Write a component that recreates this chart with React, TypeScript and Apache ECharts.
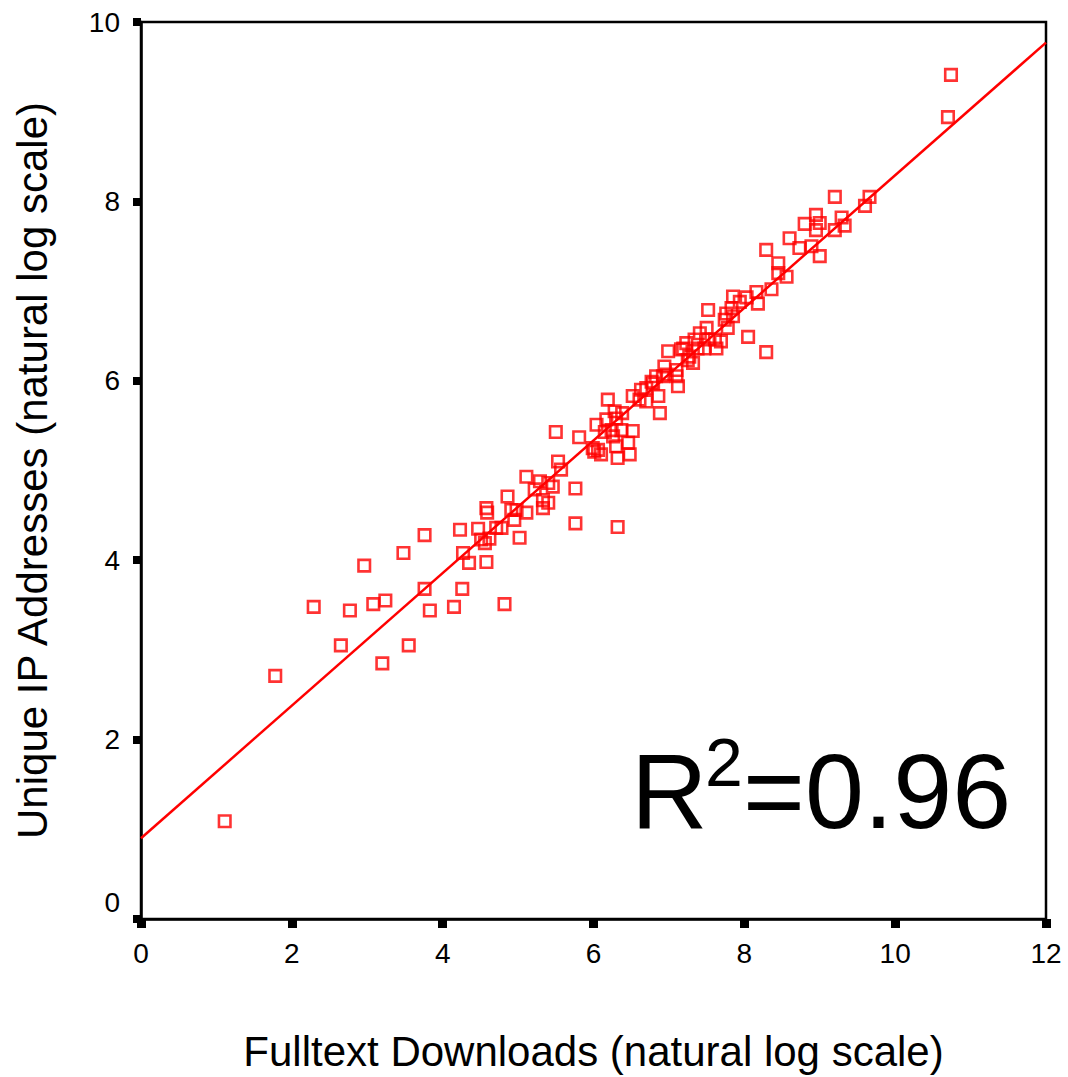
import React, { useEffect, useRef } from "react";
import * as echarts from "echarts";

// Fulltext downloads (ln) for each article
const downloads = [
  1.11, 1.78, 2.29, 2.65, 2.77, 2.96, 3.08, 3.24, 3.2, 3.48, 3.55, 3.76, 3.76, 3.83, 4.15, 4.26, 4.23, 4.27, 4.35, 4.47,
  4.51, 4.56, 4.62, 4.58, 4.58, 4.59, 4.71, 4.78, 4.82, 4.86, 4.91, 4.98, 4.95, 5.02, 5.11, 5.11, 5.22, 5.29, 5.33, 5.33,
  5.4, 5.4, 5.46, 5.5, 5.53, 5.57, 5.76, 5.76, 5.81, 6.32,
  5.99, 6.01, 6.04, 6.06, 6.1, 6.15, 6.17, 6.19, 6.24, 6.26, 6.28, 6.3, 6.3, 6.32, 6.37, 6.38, 6.46, 6.48, 6.52, 6.52,
  6.61, 6.63, 6.7, 6.7, 6.77, 6.79, 6.83, 6.86, 6.88, 6.92, 6.94, 6.97, 6.99, 7.1, 7.1, 7.12, 7.16, 7.19, 7.23, 7.25,
  7.27, 7.32, 7.34, 7.38, 7.41, 7.47, 7.5, 7.52, 7.52, 7.61, 7.63, 7.69, 7.74, 7.76, 7.78, 7.83, 7.85, 7.85, 7.94, 8.03,
  8.05, 8.16, 8.18, 8.29,
  8.36, 8.29, 8.45, 8.45, 8.56, 8.6, 8.73, 8.8, 8.89, 8.95, 8.95, 9.0, 9.0, 9.2, 9.2, 9.29, 9.33, 9.6, 9.66, 10.7, 10.74,
];

// Unique IP addresses (ln) for each article
const uniqueIPs = [
  1.09, 2.71, 3.48, 3.05, 3.44, 3.94, 3.51, 3.55, 2.85, 4.08, 3.05, 4.28, 3.68, 3.44, 3.48, 3.68, 4.34, 4.08, 3.97, 4.35,
  4.23, 4.19, 4.24, 3.98, 4.58, 4.53, 4.36, 4.36, 3.51, 4.71, 4.56, 4.56, 4.45, 4.25, 4.93, 4.53, 4.79, 4.88, 4.67, 4.58,
  4.64, 4.86, 4.82, 5.43, 5.1, 5.01, 4.8, 4.41, 5.37, 4.37,
  5.25, 5.21, 5.51, 5.23, 5.18, 5.43, 5.57, 5.79, 5.45, 5.38, 5.66, 5.58, 5.27, 5.14, 5.45, 5.64, 5.31, 5.18, 5.44, 5.83,
  5.79, 5.9, 5.77, 5.92, 5.99, 5.97, 6.05, 5.83, 5.64, 6.05, 6.16, 6.07, 6.33, 6.05, 6.12, 5.94, 6.35, 6.36, 6.42, 6.23,
  6.27, 6.2, 6.46, 6.36, 6.53, 6.36, 6.59, 6.79, 6.46, 6.46, 6.36, 6.44, 6.68, 6.75, 6.59, 6.81, 6.94, 6.72, 6.88, 6.93,
  6.49, 6.99, 6.86, 6.32,
  7.02, 7.46, 7.31, 7.2, 7.16, 7.59, 7.48, 7.75, 7.5, 7.85, 7.68, 7.76, 7.39, 8.05, 7.68, 7.82, 7.73, 7.95, 8.05, 8.94, 9.41,
];

// Fitted regression line endpoints
const fitX = [0, 12];
const fitY = [0.9, 9.77];

const xTicks = { min: 0, max: 12, interval: 2 };
const yTicks = { min: 0, max: 10, interval: 2 };

const FONT = "'Liberation Sans', Arial, sans-serif";
const RED = "#ff0000";

export default function App() {
  const ref = useRef<HTMLDivElement>(null);
  useEffect(() => {
    if (!ref.current) return;
    const chart = echarts.init(ref.current, undefined, { renderer: "svg" });
    const points = downloads.map((x, i) => [x, uniqueIPs[i]]);
    const fit = fitX.map((x, i) => [x, fitY[i]]);
    chart.setOption({
      animation: false,
      backgroundColor: "#ffffff",
      grid: {
        left: 141,
        right: 22,
        top: 22,
        bottom: 158,
        show: true,
        borderColor: "#000",
        borderWidth: 2.5,
        backgroundColor: "transparent",
      },
      xAxis: {
        type: "value",
        min: xTicks.min,
        max: xTicks.max,
        interval: xTicks.interval,
        splitLine: { show: false },
        axisLine: { show: true, onZero: false, lineStyle: { color: "#000", width: 2.5 } },
        axisTick: { show: true, length: 9, lineStyle: { color: "#000", width: 9 } },
        axisLabel: { color: "#000", fontSize: 28, fontFamily: FONT, margin: 20 },
        name: "Fulltext Downloads (natural log scale)",
        nameLocation: "middle",
        nameGap: 111,
        nameTextStyle: { color: "#000", fontSize: 42, fontFamily: FONT },
      },
      yAxis: {
        type: "value",
        min: yTicks.min,
        max: yTicks.max,
        interval: yTicks.interval,
        splitLine: { show: false },
        axisLine: { show: true, onZero: false, lineStyle: { color: "#000", width: 2.5 } },
        axisTick: { show: true, length: 8, lineStyle: { color: "#000", width: 8 } },
        axisLabel: {
          color: "#000",
          fontSize: 28,
          fontFamily: FONT,
          margin: 21,
          formatter: (v: number) => (v === 0 ? "{z|0}" : String(v)),
          rich: { z: { fontSize: 28, fontFamily: FONT, color: "#000", padding: [0, 0, 34, 0] } },
        },
        name: "Unique IP Addresses (natural log scale)",
        nameLocation: "middle",
        nameGap: 88,
        nameRotate: 90,
        nameTextStyle: { color: "#000", fontSize: 42, fontFamily: FONT },
      },
      graphic: [
        { type: "text", left: 631, top: 738, style: { text: "R", fontSize: 106, fontFamily: FONT, fill: "#000" } },
        { type: "text", left: 705, top: 728, style: { text: "2", fontSize: 68, fontFamily: FONT, fill: "#000" } },
        { type: "text", left: 743, top: 738, style: { text: "=0.96", fontSize: 106, fontFamily: FONT, fill: "#000" } },
      ],
      series: [
        {
          type: "line",
          data: fit,
          symbol: "none",
          lineStyle: { color: RED, width: 2.5 },
          z: 2,
          silent: true,
        },
        {
          type: "scatter",
          data: points,
          symbol: "rect",
          symbolSize: 11.5,
          itemStyle: { color: "rgba(0,0,0,0)", borderColor: RED, borderWidth: 2.6 },
          z: 3,
        },
      ],
    });
    return () => chart.dispose();
  }, []);
  return <div ref={ref} style={{ width: 1068, height: 1077, position: "absolute", left: 0, top: 0 }} />;
}
